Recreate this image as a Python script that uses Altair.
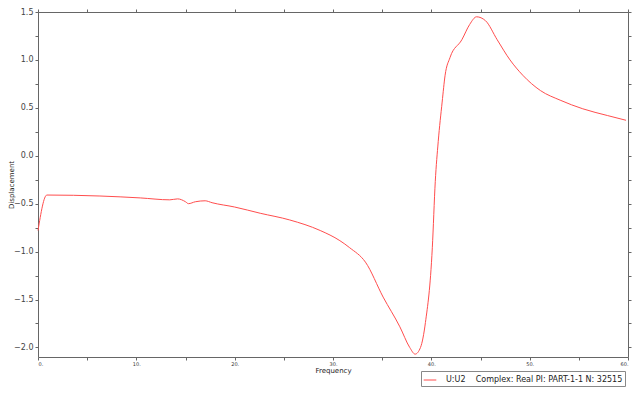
import altair as alt
import pandas as pd

freq = [0.0, 0.9, 6.3, 10.4, 13.4, 14.2, 15.0, 15.3, 16.0, 17.0, 17.7, 20.0, 22.6, 25.6,
        28.7, 30.7, 31.7, 33.3, 35.1, 36.8, 37.8, 38.35, 38.9, 39.4, 40.1, 40.4, 40.7,
        41.1, 41.4, 41.9, 43.1, 43.9, 44.6, 45.5, 46.7, 48.0, 49.3, 51.1, 53.1, 55.4,
        57.9, 59.8]
disp = [-0.78, -0.41, -0.42, -0.44, -0.46, -0.45, -0.48, -0.50, -0.48, -0.47, -0.49,
        -0.535, -0.60, -0.67, -0.78, -0.886, -0.96, -1.11, -1.475, -1.785, -2.0, -2.07,
        -2.0, -1.74, -0.96, -0.27, 0.147, 0.56, 0.84, 1.025, 1.21, 1.37, 1.45, 1.41,
        1.21, 1.0, 0.84, 0.68, 0.58, 0.49, 0.42, 0.37]
series_label = "U:U2\u00a0\u00a0\u00a0\u00a0Complex: Real PI: PART-1-1 N: 32515"

x_ticks = [0, 5, 10, 15, 20, 25, 30, 35, 40, 45, 50, 55, 60]
y_ticks = [-2.0, -1.75, -1.5, -1.25, -1.0, -0.75, -0.5, -0.25, 0.0, 0.25, 0.5, 0.75, 1.0, 1.25, 1.5]

df = pd.DataFrame({"Frequency": freq, "Displacement": disp, "series": series_label})

xs = alt.Scale(domain=[0, 60], nice=False, zero=False)
ys = alt.Scale(domain=[-2.1, 1.5], nice=False, zero=False)
axis_color = "#666666"
font = "DejaVu Sans"

line = alt.Chart(df).mark_line(strokeWidth=1, interpolate="monotone").encode(
    x=alt.X("Frequency:Q", scale=xs,
            axis=alt.Axis(values=x_ticks, labelExpr="datum.value % 10 == 0 ? datum.value + '.' : ''",
                          labelFontSize=5, labelColor="#333", labelFont=font, tickSize=3,
                          tickColor=axis_color, domainColor=axis_color, grid=False,
                          titleFontSize=7, titleFont=font, titleFontWeight="normal",
                          titleColor="#222", titlePadding=0, labelPadding=1)),
    y=alt.Y("Displacement:Q", scale=ys,
            axis=alt.Axis(values=y_ticks, labelExpr="(datum.value * 2) % 1 == 0 ? format(datum.value, '.1f') : ''",
                          labelFontSize=8, labelColor="#444", labelFont=font, tickSize=3,
                          tickColor=axis_color, domainColor=axis_color, grid=False,
                          titleFontSize=7, titleFont=font, titleFontWeight="normal",
                          titleColor="#222", titleX=-24, labelPadding=2)),
    color=alt.Color("series:N", scale=alt.Scale(range=["#ff4d4d"]),
                    legend=alt.Legend(title=None, orient="none", legendX=383, legendY=359,
                                      strokeColor="#888888", fillColor="white", padding=2,
                                      symbolType="stroke", symbolSize=160, symbolStrokeWidth=1,
                                      labelOffset=9, labelFontSize=8, labelFont=font,
                                      labelColor="#222", labelLimit=400)),
)

frame = alt.Chart(df).mark_line(opacity=0).encode(
    x=alt.X("Frequency:Q", scale=xs,
            axis=alt.Axis(orient="top", values=x_ticks, labels=False, title=None, tickSize=3,
                          tickColor=axis_color, domainColor=axis_color, grid=False)),
    y=alt.Y("Displacement:Q", scale=ys,
            axis=alt.Axis(orient="right", values=y_ticks, labels=False, title=None, tickSize=3,
                          tickColor=axis_color, domainColor=axis_color, grid=False)),
)

chart = alt.layer(line, frame).resolve_scale(x="independent", y="independent").properties(
    width=590, height=345,
    autosize=alt.AutoSizeParams(type="none"),
    padding={"left": 30, "top": 4, "right": 4, "bottom": 31},
    background="white",
).configure_view(stroke=None)

chart.save("out.html", embed_options={"renderer": "svg", "actions": False})
